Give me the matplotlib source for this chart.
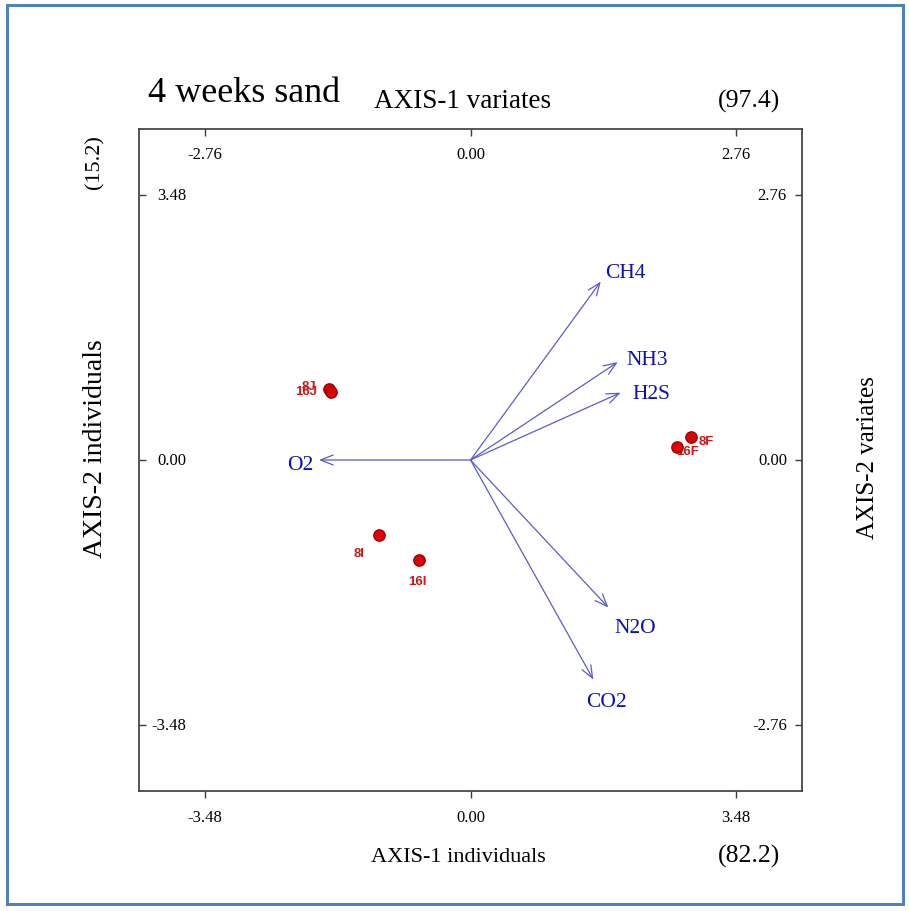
import matplotlib
matplotlib.use("Agg")
import matplotlib.pyplot as plt
from matplotlib.patches import Rectangle
from matplotlib.transforms import blended_transform_factory, offset_copy

# ---- data -------------------------------------------------------------
samples = ["8J", "16J", "8F", "16F", "8I", "16I"]
ind_x = [-1.86, -1.83, 2.89, 2.71, -1.20, -0.68]
ind_y = [0.93, 0.89, 0.30, 0.17, -0.99, -1.32]

variables = ["CH4", "NH3", "H2S", "O2", "N2O", "CO2"]
var_x = [1.356, 1.532, 1.563, -1.577, 1.435, 1.279]
var_y = [1.860, 1.020, 0.702, 0.0, -1.538, -2.289]

ind_ticks = [-3.48, 0.00, 3.48]
var_ticks = [-2.76, 0.00, 2.76]
inertia_axis1_ind = "(82.2)"
inertia_axis1_var = "(97.4)"
inertia_axis2 = "(15.2)"
title = "4 weeks sand"

# ---- layout helpers ---------------------------------------------------
W, H = 909, 912
DPI = 100
fig = plt.figure(figsize=(W / DPI, H / DPI), dpi=DPI)
fig.patch.set_facecolor("white")

SERIF = ["Liberation Serif", "DejaVu Serif"]
SANS = ["Liberation Sans", "DejaVu Sans"]
PT = 72.0 / DPI  # points per pixel


def fx(px):
    return px / W


def fy(py):
    return 1 - py / H


# page frame
fig.add_artist(Rectangle((fx(7), fy(905)), fx(903) - fx(7), fy(6) - fy(905),
                         transform=fig.transFigure, fill=False,
                         edgecolor="#4F81BD", linewidth=3 * PT))

# plotting box
left, right, top, bottom = 139, 802, 130, 792
rect = [fx(left), fy(bottom), fx(right) - fx(left), fy(top) - fy(bottom)]
lim_ind = 4.35
lim_var = lim_ind * var_ticks[-1] / ind_ticks[-1]

ax = fig.add_axes(rect)
ax.set_xlim(-lim_ind, lim_ind)
ax.set_ylim(-lim_ind, lim_ind)
for s in ax.spines.values():
    s.set_color("#3a3a3a")
    s.set_linewidth(1.2)

ax2 = fig.add_axes(rect, frameon=False)
ax2.set_xlim(-lim_var, lim_var)
ax2.set_ylim(-lim_var, lim_var)
ax2.patch.set_alpha(0)

tick_len = 7 * PT
# individuals: bottom (outward) and left (inward)
ax.set_xticks(ind_ticks)
ax.set_yticks(ind_ticks)
ax.tick_params(axis="x", bottom=True, top=False, direction="out",
               length=tick_len, width=1, color="#3a3a3a", labelbottom=False)
ax.tick_params(axis="y", left=True, right=False, direction="in",
               length=tick_len, width=1, color="#3a3a3a", labelleft=False)
# variates: top and right (inward)
ax2.set_xticks(var_ticks)
ax2.set_yticks(var_ticks)
ax2.tick_params(axis="x", bottom=False, top=True, direction="in",
                length=tick_len, width=1, color="#3a3a3a",
                labelbottom=False, labeltop=False)
ax2.tick_params(axis="y", left=False, right=True, direction="in",
                length=tick_len, width=1, color="#3a3a3a",
                labelleft=False, labelright=False)

tick_fs = 12
# tick labels
for v in ind_ticks:
    tr = blended_transform_factory(ax.transData, ax.transAxes)
    ax.text(v, 0, f"{v:.2f}", transform=offset_copy(tr, fig, y=-26 * PT, units="points"),
            ha="center", va="center", fontsize=tick_fs, family=SERIF)
    tr = blended_transform_factory(ax.transAxes, ax.transData)
    ax.text(0, v, f"{v:.2f}", transform=offset_copy(tr, fig, x=47 * PT, units="points"),
            ha="right", va="center", fontsize=tick_fs, family=SERIF)
for v in var_ticks:
    tr = blended_transform_factory(ax2.transData, ax2.transAxes)
    ax2.text(v, 1, f"{v:.2f}", transform=offset_copy(tr, fig, y=-25 * PT, units="points"),
             ha="center", va="center", fontsize=tick_fs, family=SERIF)
    tr = blended_transform_factory(ax2.transAxes, ax2.transData)
    ax2.text(1, v, f"{v:.2f}", transform=offset_copy(tr, fig, x=-15 * PT, units="points"),
             ha="right", va="center", fontsize=tick_fs, family=SERIF)

# ---- variable arrows --------------------------------------------------
arrow_col = "#5c5cc8"
var_col = "#1010b0"
var_label_off = {  # pixel offsets from the arrow tip, alignment
    "CH4": (4, 9, "left"),
    "NH3": (9, 3, "left"),
    "H2S": (12, -1, "left"),
    "O2": (-6, -4, "right"),
    "N2O": (6, -20, "left"),
    "CO2": (-7, -22, "left"),
}
for name, x, y in zip(variables, var_x, var_y):
    ax2.annotate("", xy=(x, y), xytext=(0, 0),
                 arrowprops=dict(arrowstyle="->,head_length=0.75,head_width=0.3",
                                 color=arrow_col, lw=0.9, shrinkA=0, shrinkB=0,
                                 mutation_scale=12))
    dx, dy, ha = var_label_off[name]
    ax2.annotate(name, xy=(x, y), xytext=(dx * PT, dy * PT),
                 textcoords="offset points", ha=ha, va="center",
                 fontsize=15.5, color=var_col, family=SERIF)

# ---- individuals ------------------------------------------------------
pt_col = "#e00000"
lab_col = "#cc1818"
ind_label_off = {
    "8J": (-13, 3, "right"),
    "16J": (-14, 1, "right"),
    "8F": (8, -4, "left"),
    "16F": (-1, -4, "left"),
    "8I": (-15, -18, "right"),
    "16I": (-1, -21, "center"),
}
for name, x, y in zip(samples, ind_x, ind_y):
    dx, dy, ha = ind_label_off[name]
    ax.annotate(name, xy=(x, y), xytext=(dx * PT, dy * PT),
                textcoords="offset points", ha=ha, va="center",
                fontsize=9.5, fontweight="bold", color=lab_col, family=SANS,
                zorder=2)
ax.plot(ind_x, ind_y, "o", ms=8.3, mfc=pt_col, mec="#8a0000", mew=0.8,
        ls="none", zorder=3)

# ---- titles -----------------------------------------------------------
fig.text(fx(148), fy(102), title, fontsize=26, family=SERIF, ha="left", va="baseline")
fig.text(fx(463), fy(101), "AXIS-1 variates", fontsize=19.5, family=SERIF, ha="center", va="center")
fig.text(fx(749), fy(101), inertia_axis1_var, fontsize=18.5, family=SERIF, ha="center", va="center")
fig.text(fx(95), fy(162), inertia_axis2, fontsize=16, family=SERIF, ha="center", va="center", rotation=90)
fig.text(fx(95), fy(449), "AXIS-2 individuals", fontsize=20, family=SERIF, ha="center", va="center", rotation=90)
fig.text(fx(868), fy(458), "AXIS-2 variates", fontsize=18, family=SERIF, ha="center", va="center", rotation=90)
fig.text(fx(458), fy(858), "AXIS-1 individuals", fontsize=16, family=SERIF, ha="center", va="center")
fig.text(fx(749), fy(856), inertia_axis1_ind, fontsize=18.5, family=SERIF, ha="center", va="center")

fig.savefig("out.png", dpi=DPI, facecolor="white")
